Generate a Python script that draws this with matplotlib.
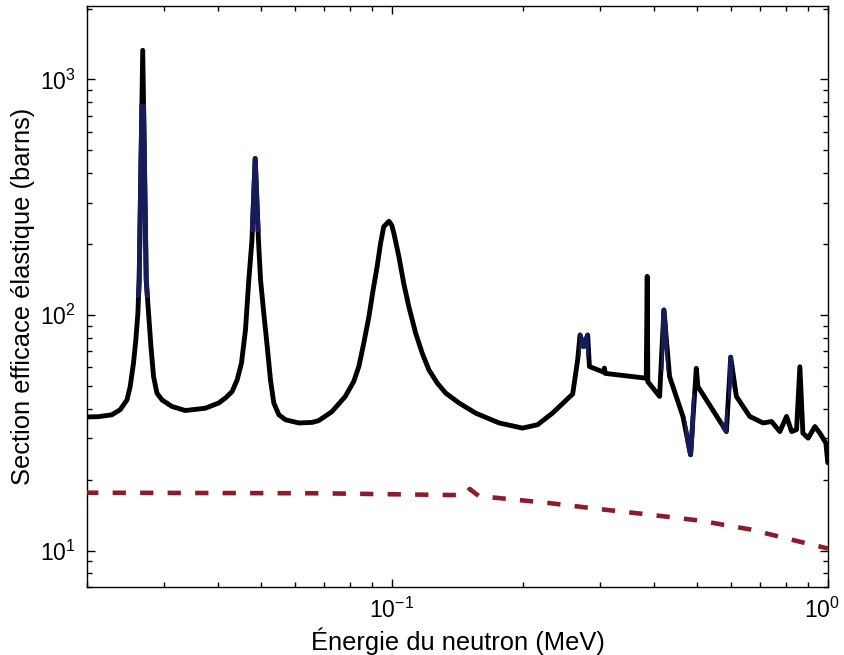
import matplotlib
matplotlib.use("Agg")
import matplotlib.pyplot as plt
from matplotlib.patches import Rectangle
from matplotlib.ticker import LogLocator, NullFormatter
from matplotlib.transforms import ScaledTranslation

plt.rcParams['font.family'] = ['Liberation Sans', 'DejaVu Sans']
plt.rcParams['mathtext.fontset'] = 'custom'
plt.rcParams['mathtext.rm'] = 'Liberation Sans'
plt.rcParams['mathtext.it'] = 'Liberation Sans:italic'
plt.rcParams['mathtext.bf'] = 'Liberation Sans:bold'

# Elastic cross section (black curve), energies in MeV, sigma in barns
energy = [0.0198, 0.02124, 0.0228, 0.02382, 0.0247, 0.02512, 0.02556, 0.02588,
          0.02616, 0.02634, 0.02684, 0.02734, 0.02768, 0.02803, 0.02842, 0.02893,
          0.02971, 0.03131, 0.03360, 0.03736, 0.04009, 0.04153, 0.04302, 0.04418,
          0.04520, 0.04617, 0.04699, 0.04778, 0.04860, 0.04945, 0.05000, 0.05086,
          0.05179, 0.05269, 0.05362, 0.05507, 0.05705, 0.06120, 0.0657, 0.0679,
          0.0701, 0.0729, 0.0782, 0.08177, 0.0840, 0.08622, 0.0886, 0.09057,
          0.0925, 0.09419, 0.0958, 0.0985, 0.1000, 0.1011, 0.1038, 0.1065,
          0.1094, 0.1134, 0.1174, 0.1216, 0.1271, 0.1329, 0.1426, 0.1557,
          0.1762, 0.1993, 0.2158, 0.2335, 0.2598, 0.2667, 0.2701, 0.2754,
          0.2812, 0.2838, 0.3060, 0.3072, 0.3085, 0.3831, 0.3851, 0.3863,
          0.4111, 0.4205, 0.4333, 0.4649, 0.4842, 0.4990, 0.5032, 0.5850,
          0.5984, 0.6166, 0.6616, 0.7100, 0.7422, 0.7757, 0.8036, 0.8253,
          0.8472, 0.8622, 0.8760, 0.9009, 0.9334, 0.9582, 0.9890, 0.9990]
sigma = [36.9, 37.0, 37.7, 39.6, 43.6, 49.7, 62.4, 78.4,
         101.6, 140.7, 1330, 140.7, 101.6, 73.4, 54.8, 46.6,
         43.6, 40.9, 39.3, 40.2, 42.3, 44.4, 47.3, 53.0,
         62.4, 86.4, 140.7, 208, 462, 208, 140.7, 101.6,
         73.4, 53.0, 42.3, 37.7, 35.9, 34.8, 35.0, 35.6,
         37.0, 38.9, 45.1, 52.2, 60.4, 75.9, 98.4, 127.6,
         160, 201, 237, 250, 240, 222, 176.6, 136,
         108.4, 83.7, 68.8, 58.5, 51.4, 46.6, 42.3, 38.3,
         34.8, 33.1, 34.2, 38.3, 46.2, 64.4, 82.2, 73.4,
         82.2, 60.4, 57.2, 59.5, 56.5, 53.9, 146, 52.1,
         45.1, 105, 54.8, 37.1, 25.5, 59.4, 49.7, 32.0,
         66.2, 45.1, 37.1, 34.8, 35.3, 32.0, 37.1, 32.0,
         32.6, 60.3, 31.5, 30.0, 33.6, 31.5, 28.6, 23.6]

# Potential scattering (red dashed curve)
energy_pot = [0.0198, 0.0679, 0.1378, 0.1472, 0.1509, 0.1585, 0.1762, 0.2296,
              0.2991, 0.3899, 0.5078, 0.6616, 0.8622, 1.0]
sigma_pot = [17.6, 17.5, 17.2, 17.3, 18.25, 17.0, 16.7, 15.9,
             15.0, 14.2, 13.4, 12.3, 10.9, 10.2]

# Resonance regions highlighted in navy: (E_min, E_max, sigma_min, sigma_max)
blue_windows = [(0.0250, 0.0285, 118, 790),
                (0.0470, 0.0500, 225, 2000),
                (0.2690, 0.2830, 66, 2000),
                (0.4150, 0.4300, 58, 2000),
                (0.4700, 0.4950, 25, 46),
                (0.5900, 0.6050, 44, 2000),
                (0.5700, 0.5900, 30, 40)]

fig = plt.figure(figsize=(8.44, 6.55), dpi=100)
ax = fig.add_axes([0.1031, 0.1038, 0.8779, 0.8870])

ax.plot(energy, sigma, color='black', lw=3.5, solid_joinstyle='round',
        solid_capstyle='round', zorder=3)
for (e0, e1, s0, s1) in blue_windows:
    ln, = ax.plot(energy, sigma, color='#161b5c', lw=3.5, zorder=4,
                  solid_joinstyle='round')
    rect = Rectangle((e0, s0), e1 - e0, s1 - s0, transform=ax.transData)
    ln.set_clip_path(rect)

ax.plot(energy_pot, sigma_pot, color='#8c1c2c', lw=3.3, dashes=(2.9, 3.1),
        zorder=3)

ax.set_xscale('log')
ax.set_yscale('log')
ax.set_xlim(0.02, 1.0)
ax.set_ylim(7.0, 2050)

ax.xaxis.set_major_locator(LogLocator(base=10, numticks=10))
ax.yaxis.set_major_locator(LogLocator(base=10, numticks=10))
ax.xaxis.set_minor_locator(LogLocator(base=10, subs=range(2, 10), numticks=20))
ax.yaxis.set_minor_locator(LogLocator(base=10, subs=range(2, 10), numticks=20))
ax.xaxis.set_minor_formatter(NullFormatter())
ax.yaxis.set_minor_formatter(NullFormatter())

ax.tick_params(which='both', direction='in', top=True, right=True, width=1.0,
               labelsize=16.5, colors='black')
ax.tick_params(which='major', length=6, pad=8)
ax.tick_params(which='minor', length=3.5)
for sp in ax.spines.values():
    sp.set_linewidth(1.0)

ax.set_xlabel('Énergie du neutron (MeV)', fontsize=18.4, labelpad=3)
ax.set_ylabel('Section efficace élastique (barns)', fontsize=18.4, labelpad=4)

# keep the right-most x tick label inside the canvas
fig.canvas.draw()
shift = ScaledTranslation(-4 / 72, 0, fig.dpi_scale_trans)
for tick in ax.xaxis.get_major_ticks():
    if abs(tick.get_loc() - 1.0) < 1e-9:
        tick.label1.set_transform(tick.label1.get_transform() + shift)

fig.savefig('out.png', dpi=100)
